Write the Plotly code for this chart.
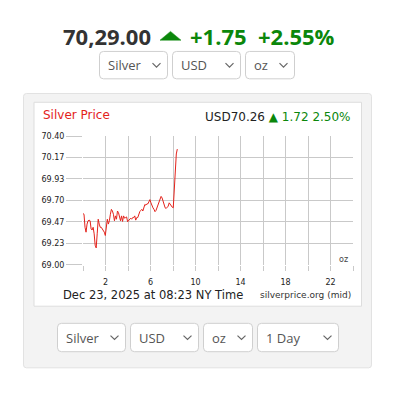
import plotly.graph_objects as go

W, H = 396, 410

# ---------------- data ----------------
HEADER_PRICE = "70,29.00"
HEADER_CHANGE = "+1.75"
HEADER_PCT = "+2.55%"
CHART_TITLE = "Silver Price"
CHART_PRICE = "USD70.26"
CHART_CHANGE = "1.72"
CHART_PCT = "2.50%"
TIMESTAMP = "Dec 23, 2025 at 08:23 NY Time"
SOURCE = "silverprice.org (mid)"
UNIT = "oz"
DROPDOWNS_TOP = ["Silver", "USD", "oz"]
DROPDOWNS_BOTTOM = ["Silver", "USD", "oz", "1 Day"]

Y_TICKS = [69.00, 69.2333, 69.4667, 69.70, 69.9333, 70.1667, 70.40]
Y_TICK_LABELS = ["69.00", "69.23", "69.47", "69.70", "69.93", "70.17", "70.40"]
X_TICKS = [0, 2, 4, 6, 8, 10, 12, 14, 16, 18, 20, 22, 24]
X_TICK_LABELS = ["", "2", "", "6", "", "10", "", "14", "", "18", "", "22", ""]

LAST_SAMPLE_HOURS = 8 + 23 / 60  # 08:23
PRICES = [69.557, 69.550, 69.408, 69.355, 69.443, 69.479, 69.486, 69.479, 69.390, 69.379,
          69.408, 69.337, 69.213, 69.184, 69.337, 69.496, 69.443, 69.408, 69.408, 69.390,
          69.372, 69.355, 69.319, 69.408, 69.496, 69.443, 69.479, 69.550, 69.603, 69.585,
          69.550, 69.479, 69.532, 69.496, 69.585, 69.567, 69.514, 69.479, 69.532, 69.472,
          69.532, 69.507, 69.514, 69.521, 69.468, 69.479, 69.486, 69.507, 69.496, 69.514,
          69.514, 69.532, 69.486, 69.514, 69.514, 69.557, 69.578, 69.592, 69.603, 69.585,
          69.638, 69.656, 69.649, 69.663, 69.663, 69.691, 69.709, 69.674, 69.638, 69.620,
          69.603, 69.578, 69.592, 69.627, 69.656, 69.674, 69.709, 69.744, 69.727, 69.691,
          69.656, 69.620, 69.613, 69.627, 69.638, 69.674, 69.656, 69.649, 69.627, 69.620,
          69.798, 70.046, 70.205, 70.258]
n = len(PRICES)
HOURS = [LAST_SAMPLE_HOURS * i / (n - 1) for i in range(n)]

# ---------------- helpers ----------------
def fx(x):
    return x / W

def fy(y):
    return 1 - y / H

def rrect(x0, y0, x1, y1, r):
    """rounded rect path in paper coords from pixel coords"""
    pts = [
        f"M{fx(x0 + r)},{fy(y0)}",
        f"L{fx(x1 - r)},{fy(y0)}",
        f"Q{fx(x1)},{fy(y0)} {fx(x1)},{fy(y0 + r)}",
        f"L{fx(x1)},{fy(y1 - r)}",
        f"Q{fx(x1)},{fy(y1)} {fx(x1 - r)},{fy(y1)}",
        f"L{fx(x0 + r)},{fy(y1)}",
        f"Q{fx(x0)},{fy(y1)} {fx(x0)},{fy(y1 - r)}",
        f"L{fx(x0)},{fy(y0 + r)}",
        f"Q{fx(x0)},{fy(y0)} {fx(x0 + r)},{fy(y0)}",
        "Z",
    ]
    return " ".join(pts)

shapes = []
annotations = []

GREEN = "#0b870b"
DARK = "#333333"
RED = "#e3221b"
CHART_FONT = "DejaVu Sans"
UI_FONT = "Open Sans"

# outer panel
shapes.append(dict(type="path", xref="paper", yref="paper", path=rrect(23.5, 91.5, 371.5, 372, 3),
                   fillcolor="#f3f3f3", line=dict(color="#e2e2e2", width=1), layer="below"))
# inner chart box
shapes.append(dict(type="rect", xref="paper", yref="paper",
                   x0=fx(34), x1=fx(361.5), y0=fy(309), y1=fy(100.5),
                   fillcolor="white", line=dict(color="#dddddd", width=1), layer="below"))


def dropdown(x0, x1, y0, y1, label):
    shapes.append(dict(type="path", xref="paper", yref="paper", path=rrect(x0, y0, x1, y1, 4),
                       fillcolor="white", line=dict(color="#cfcfcf", width=1), layer="above"))
    cx = x1 - 11
    cy = (y0 + y1) / 2
    shapes.append(dict(type="path", xref="paper", yref="paper",
                       path=f"M{fx(cx - 4)},{fy(cy - 2)} L{fx(cx)},{fy(cy + 2)} L{fx(cx + 4)},{fy(cy - 2)}",
                       line=dict(color="#666666", width=1.2)))
    annotations.append(dict(x=fx(x0 + 6), y=fy(cy), xref="paper", yref="paper", text=label,
                            showarrow=False, xanchor="left", yanchor="middle",
                            font=dict(family=UI_FONT, size=13, color="#555555")))


for (x0, x1), lab in zip([(99.5, 167.5), (172.5, 240.5), (245.5, 294.5)], DROPDOWNS_TOP):
    dropdown(x0, x1, 48.5, 76.5, lab)
for (x0, x1), lab in zip([(57.5, 125.5), (130.5, 198.5), (203.5, 252.5), (257.5, 338.5)], DROPDOWNS_BOTTOM):
    dropdown(x0, x1, 326.5, 355.5, lab)

# header
annotations.append(dict(x=fx(61), y=fy(33), xref="paper", yref="paper", text=f"<b>{HEADER_PRICE}</b>",
                        showarrow=False, xanchor="left", yanchor="middle",
                        font=dict(family=UI_FONT, size=22, color=DARK)))
shapes.append(dict(type="path", xref="paper", yref="paper",
                   path=f"M{fx(160)},{fy(37)} L{fx(170.5)},{fy(28)} L{fx(181)},{fy(37)} Z",
                   fillcolor=GREEN, line=dict(color=GREEN, width=0.5)))
annotations.append(dict(x=fx(188), y=fy(33), xref="paper", yref="paper", text=f"<b>{HEADER_CHANGE}</b>",
                        showarrow=False, xanchor="left", yanchor="middle",
                        font=dict(family=UI_FONT, size=22, color=GREEN)))
annotations.append(dict(x=fx(256), y=fy(33), xref="paper", yref="paper", text=f"<b>{HEADER_PCT}</b>",
                        showarrow=False, xanchor="left", yanchor="middle",
                        font=dict(family=UI_FONT, size=22, color=GREEN)))

# chart title and price
annotations.append(dict(x=fx(41), y=fy(114), xref="paper", yref="paper", text=CHART_TITLE,
                        showarrow=False, xanchor="left", yanchor="middle",
                        font=dict(family=CHART_FONT, size=12, color=RED)))
annotations.append(dict(x=fx(353), y=fy(116), xref="paper", yref="paper",
                        text=f"{CHART_PRICE} <span style='color:{GREEN}'>▲ {CHART_CHANGE} {CHART_PCT}</span>",
                        showarrow=False, xanchor="right", yanchor="middle",
                        font=dict(family=CHART_FONT, size=12, color="#222222")))
annotations.append(dict(x=fx(61), y=fy(298), xref="paper", yref="paper", text=TIMESTAMP,
                        showarrow=False, xanchor="left", yanchor="middle",
                        font=dict(family=CHART_FONT, size=11.5, color="#222222")))
annotations.append(dict(x=fx(353), y=fy(298), xref="paper", yref="paper", text=SOURCE,
                        showarrow=False, xanchor="right", yanchor="middle",
                        font=dict(family=CHART_FONT, size=9, color="#333333")))
annotations.append(dict(x=fx(350), y=fy(261.5), xref="paper", yref="paper", text=UNIT,
                        showarrow=False, xanchor="right", yanchor="middle",
                        font=dict(family=CHART_FONT, size=8, color="#444444")))

fig = go.Figure()
fig.add_trace(go.Scatter(x=HOURS, y=PRICES, mode="lines",
                         line=dict(color=RED, width=1), hoverinfo="skip"))

fig.update_layout(
    width=W, height=H,
    margin=dict(l=0, r=0, t=0, b=0),
    paper_bgcolor="white",
    plot_bgcolor="rgba(0,0,0,0)",
    showlegend=False,
    shapes=shapes,
    annotations=annotations,
    xaxis=dict(
        domain=[fx(83), fx(353)],
        range=[0, 24],
        tickmode="array", tickvals=X_TICKS, ticktext=X_TICK_LABELS,
        showgrid=True, gridcolor="#c9c9c9", gridwidth=1,
        ticks="outside", ticklen=5, tickcolor="#c9c9c9",
        ticklabelstandoff=5,
        tickfont=dict(family=CHART_FONT, size=8, color="#222222"),
        zeroline=False, showline=False, fixedrange=True,
    ),
    yaxis=dict(
        domain=[fy(266.7), fy(135)],
        range=[69.0, 70.4],
        tickmode="array", tickvals=Y_TICKS, ticktext=Y_TICK_LABELS,
        showgrid=True, gridcolor="#c9c9c9", gridwidth=1,
        ticks="outside", ticklen=16, tickcolor="#c9c9c9",
        tickfont=dict(family=CHART_FONT, size=8, color="#222222"),
        zeroline=False, showline=False, fixedrange=True,
    ),
)

fig.write_html(
    "out.html",
    config={"displayModeBar": False, "staticPlot": True},
    post_script="document.body.style.margin='0';document.body.style.overflow='hidden';",
)
